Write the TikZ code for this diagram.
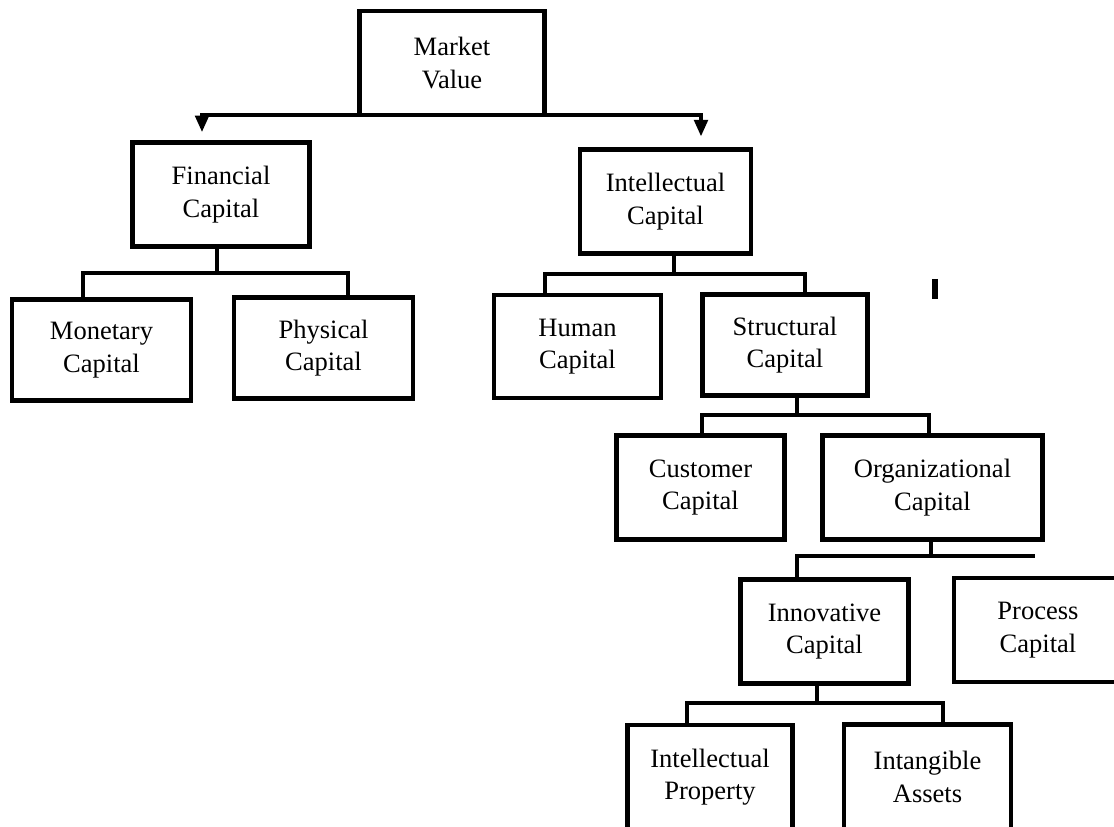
\documentclass[tikz,border=0pt]{standalone}
\usepackage{fontspec}
\setmainfont{Liberation Serif}
\usetikzlibrary{arrows.meta,calc}

\begin{document}
\begin{tikzpicture}[x=0.75pt,y=-0.75pt]
% Define styles
\tikzstyle{box} = [rectangle, minimum width=126pt, minimum height=78pt, inner sep=0pt, align=center, draw=black, line width=3.4pt, font=\fontsize{19.9}{24.5}\selectfont]
\tikzstyle{link} = [line width=3pt, line join=miter]
\tikzstyle{arrow} = [link, -{Triangle[width=10pt,length=12.5pt]}]

\useasboundingbox (0,0) rectangle (1114,827);
\clip (0,0) rectangle (1114,827);

% Draw nodes
\node (mv) [box, minimum width=139pt] at (452,63) {Market\\Value};
\node (fin) [box, minimum width=133pt] at (221,194.5) {Financial\\Capital};
\node (ic) [box, minimum width=128pt] at (665.5,201.5) {Intellectual\\Capital};
\node (mon) [box, minimum width=134pt, minimum height=76pt] at (101.5,350) {Monetary\\Capital};
\node (phy) [box, minimum width=134pt, minimum height=76pt] at (323.5,348) {Physical\\Capital};
\node (hum) [box, minimum width=125pt, minimum height=77pt] at (577.5,346.5) {Human\\Capital};
\node (str) [box, minimum width=124pt, minimum height=76pt] at (785,345) {Structural\\Capital};
\node (cus) [box] at (700.5,487.5) {Customer\\Capital};
\node (org) [box, minimum width=165pt] at (932.5,487.5) {Organizational\\Capital};
\node (inn) [box] at (824.5,631.5) {Innovative\\Capital};
\node (pro) [box] at (1038,630) {Process\\Capital};
\node (ip) [box, minimum width=124pt] at (710,777) {Intellectual\\Property};
\node (ia) [box, minimum width=125pt, minimum height=79pt] at (927.5,777) {Intangible\\Assets};

% Draw arrows
\draw [arrow, shorten >=6pt] ($(mv.south west)+(0,-2)$) -| ($(fin.north)+(-19,0)$);
\draw [arrow, shorten >=8pt] ($(mv.south east)+(0,-2)$) -| ($(ic.north)+(35.5,0)$);

\coordinate (finj) at (217,273);
\draw [link] (fin.south -| finj) -- (finj);
\draw [link] ($(mon.north)+(-18.5,0)$) |- (finj) -| ($(phy.north)+(24.5,0)$);

\coordinate (icj) at (674,274);
\draw [link] (ic.south -| icj) -- (icj);
\draw [link] ($(hum.north)+(-32.5,0)$) |- (icj) -| ($(str.north)+(20,0)$);

\coordinate (strj) at (797,415);
\draw [link] (str.south -| strj) -- (strj);
\draw [link] ($(cus.north)+(1.5,0)$) |- (strj) -| ($(org.north)+(-3.5,0)$);

\coordinate (orgj) at (931,556);
\coordinate (orgend) at (1035,556);
\draw [link] (org.south -| orgj) -- (orgj);
\draw [link] ($(inn.north)+(-27.5,0)$) |- (orgj) -- (orgend);

\coordinate (innj) at (817,703);
\draw [link] (inn.south -| innj) -- (innj);
\draw [link] ($(ip.north)+(-23,0)$) |- (innj) -| ($(ia.north)+(15.5,0)$);

% stray mark
\draw [line width=4pt] (935,279) -- (935,299);

\end{tikzpicture}
\end{document}
